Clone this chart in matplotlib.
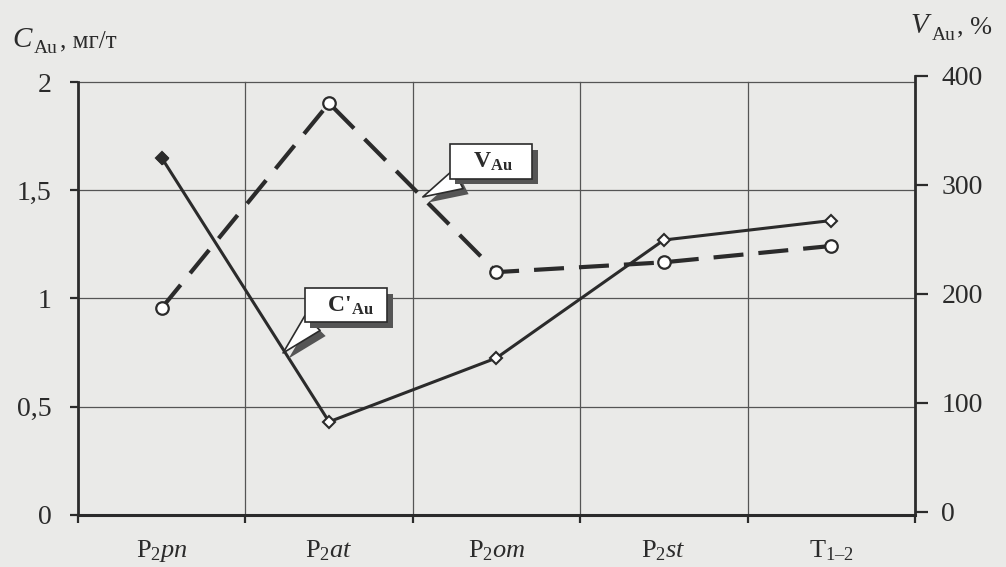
import matplotlib.pyplot as plt
from matplotlib import patheffects
import numpy as np

plt.rcParams['font.family'] = ['Liberation Serif', 'DejaVu Serif']
plt.rcParams['mathtext.fontset'] = 'custom'
plt.rcParams['mathtext.rm'] = 'Liberation Serif'
plt.rcParams['mathtext.it'] = 'Liberation Serif:italic'
plt.rcParams['mathtext.bf'] = 'Liberation Serif:bold'

# horizons along the section
horizons = [r'P$_2$$\mathit{pn}$', r'P$_2$$\mathit{at}$', r'P$_2$$\mathit{om}$',
            r'P$_2$$\mathit{st}$', 'T$_{1\u20132}$']
c_au = [1.65, 0.43, 0.725, 1.27, 1.36]      # C'Au, mg/t (left axis)
v_au = [187, 375, 220, 229, 244]            # VAu, % (right axis)

left_ticks = [0, 0.5, 1, 1.5, 2]
left_labels = ['0', '0,5', '1', '1,5', '2']
right_ticks = [0, 100, 200, 300, 400]

ink = '#2b2b2b'
paper = '#eaeae8'

fig = plt.figure(figsize=(10.06, 5.67), dpi=100, facecolor=paper)
ax = fig.add_axes([0.0775, 0.092, 0.832, 0.774])
ax.set_facecolor(paper)
x = np.arange(len(horizons)) + 0.5

ax.set_xlim(0, 5)
ax.set_ylim(0, 2.028)
ax.set_xticks(range(6))
ax.set_xticklabels([])
ax.set_xticks(x, minor=True)
ax.set_xticklabels(horizons, minor=True, fontsize=19, color=ink)
ax.tick_params(axis='x', which='minor', length=0, pad=17)
ax.tick_params(axis='x', which='major', direction='out', length=6, width=1.6, color=ink)
ax.set_yticks(left_ticks)
ax.set_yticklabels(left_labels, fontsize=20, color=ink)
ax.tick_params(axis='y', direction='out', length=6, width=1.6, color=ink, pad=13)

for side in ['top', 'right']:
    ax.spines[side].set_visible(False)
ax.spines['left'].set_bounds(0, 2)
ax.spines['left'].set_linewidth(2)
ax.spines['left'].set_color(ink)
ax.spines['bottom'].set_linewidth(2.2)
ax.spines['bottom'].set_color(ink)

# grid
for yy in left_ticks[1:]:
    ax.axhline(yy, color='#555555', lw=0.9, zorder=1)
for xx in range(1, 5):
    ax.plot([xx, xx], [0, 2], color='#555555', lw=0.9, zorder=1)

ax2 = ax.twinx()
ax2.set_ylim(-2.75, 400)
ax2.set_yticks(right_ticks)
ax2.set_yticklabels([str(t) for t in right_ticks], fontsize=20, color=ink)
ax2.tick_params(axis='y', direction='out', length=9, width=1.6, color=ink, pad=10)
for side in ['top', 'left', 'bottom']:
    ax2.spines[side].set_visible(False)
ax2.spines['right'].set_bounds(-3, 400)
ax2.spines['right'].set_linewidth(2)
ax2.spines['right'].set_color(ink)

# VAu - dashed with open circles
ax2.plot(x, v_au, color=ink, lw=3, linestyle=(0, (7.2, 3.6)),
         marker='o', ms=9, mfc='white', mec=ink, mew=1.6, zorder=3)
# C'Au - solid with open diamonds, first point filled
ax.plot(x, c_au, color=ink, lw=2.2, marker='D', ms=6.5, mfc='white',
        mec=ink, mew=1.5, zorder=3)
ax.plot(x[:1], c_au[:1], 'D', ms=6.5, mfc=ink, mec=ink, zorder=4)

# callouts
shadow = [patheffects.withSimplePatchShadow(offset=(4, -4), shadow_rgbFace='#555555', alpha=1)]
callouts = [
    ('   V$_{\\mathbf{Au}}$   ', (2.06, 1.469), (2.467, 1.633), (0.22, 0)),
    ("   C'$_{\\mathbf{Au}}$  ", (1.225, 0.748), (1.601, 0.968), (0.12, 0)),
]
for label, tip, pos, rel in callouts:
    an = ax.annotate(label, xy=tip, xytext=pos, ha='center', va='center',
                     fontsize=17, fontweight='bold', color=ink, zorder=6,
                     bbox=dict(boxstyle='square,pad=0.25', fc='white', ec=ink, lw=1.2),
                     arrowprops=dict(arrowstyle='wedge,tail_width=0.9,shrink_factor=0.5',
                                     fc='white', ec=ink, lw=1.2, shrinkA=0, shrinkB=0,
                                     relpos=rel))
    an.get_bbox_patch().set_path_effects(shadow)
    an.arrow_patch.set_path_effects(shadow)

# axis titles
fig.text(0.012, 1 - 47 / 567, r'$\mathit{C}$', fontsize=21, color=ink)
fig.text(0.034, 1 - 53 / 567, 'Au', fontsize=14, color=ink)
fig.text(0.060, 1 - 47 / 567, ', мг/т', fontsize=18, color=ink)
fig.text(0.905, 1 - 33 / 567, r'$\mathit{V}$', fontsize=21, color=ink)
fig.text(0.926, 1 - 40 / 567, 'Au', fontsize=14, color=ink)
fig.text(0.951, 1 - 33 / 567, ', %', fontsize=19, color=ink)

fig.savefig('out.png', dpi=100, facecolor=paper)
